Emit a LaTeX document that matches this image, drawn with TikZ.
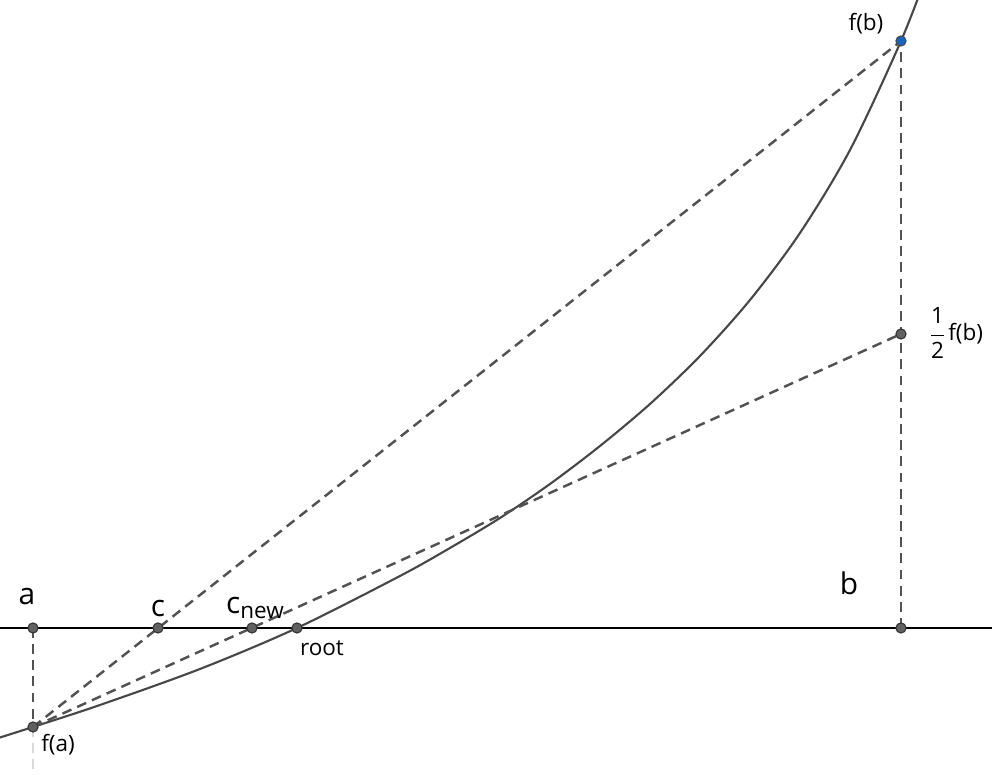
\documentclass[tikz,border=0pt]{standalone}
\usepackage{amsmath}
\usepackage{fontspec}
\setmainfont{Open Sans}
\usepackage{tikz}
\usetikzlibrary{positioning, calc}

\begin{document}
\begin{tikzpicture}[
			axis/.style={draw=black, line width=0.35pt},
			func/.style={draw=black!72, line width=0.6pt},
			helper/.style={draw=black!68, line width=0.7pt, dash pattern=on 2.8pt off 1.8pt},
			dot/.style={circle, draw=black!80, fill=black!62, line width=0.3pt, inner sep=0pt, minimum size=2.9pt},
			bigtxt/.style={font=\fontsize{8.5}{10}\selectfont, inner sep=0pt},
			smalltxt/.style={font=\fontsize{6.4}{7.5}\selectfont, inner sep=0pt}
			]
			\useasboundingbox (0,-1.47) rectangle (9.92,6.28);
			\clip (0,-1.47) rectangle (9.92,6.28);
			
			% Points of the construction
			\coordinate (xl) at (0,0);
			\coordinate (xr) at (9.92,0);
			\coordinate (pa) at (0.33,0);
			\coordinate (pb) at (9.01,0);
			\coordinate (fa) at (0.33,-0.99);
			\coordinate (fb) at (9.01,5.87);
			\coordinate (hb) at (9.01,2.94);
			\coordinate (pc) at (1.58,0);
			\coordinate (pcn) at (2.52,0);
			\coordinate (rt) at (2.97,0);
			\coordinate (low) at (0.33,-1.47);
			
			% x axis
			\draw[axis] (xl) -- (xr);
			
			% Function
			\draw[func] plot[smooth] coordinates {(-0.3,-1.19) (0.33,-0.99) (1.0,-0.77) (2.0,-0.41) (2.97,0) (4.0,0.52) (4.5,0.80) (5.0,1.10) (5.5,1.44) (6.0,1.82) (6.5,2.24) (7.0,2.72) (7.5,3.28) (8.0,3.95) (8.5,4.78) (9.01,5.87) (9.3,6.62)};
			
			% Helper lines
			\draw[helper] (pa) -- (fa);
			\draw[helper, draw=black!15] (fa) -- (low);
			\draw[helper] (pb) -- (fb);
			\draw[helper] (fa) -- (fb);
			\draw[helper] (fa) -- (hb);
			
			% Dots
			\node[dot] (a) at (pa) {};
			\node[dot] (b) at (pb) {};
			\node[dot] (c) at (pc) {};
			\node[dot] (cn) at (pcn) {};
			\node[dot] (r) at (rt) {};
			\node[dot] (fadot) at (fa) {};
			\node[dot] (hbdot) at (hb) {};
			\node[dot, fill={rgb,255:red,21;green,101;blue,192}, draw=black!70] (fbdot) at (fb) {};
			
			% Labels
			\node[bigtxt] (la) at (0.27,0.31) {a};
			\node[bigtxt] (lb) at (8.49,0.45) {b};
			\node[bigtxt] (lc) at (1.58,0.19) {c};
			\node[bigtxt] (lcn) at (2.55,0.20) {c\raisebox{-1.7pt}{\fontsize{6.4}{7}\selectfont new}};
			\node[smalltxt] (lr) at (3.22,-0.20) {root};
			\node[smalltxt] (lfa) at (0.58,-1.17) {f(a)};
			\node[smalltxt] (lfb) at (8.66,6.04) {f(b)};
			\node[smalltxt] (lhb) at (9.55,2.95) {$\dfrac{\text{1}}{\text{2}}$f(b)};
		\end{tikzpicture}
\end{document}
